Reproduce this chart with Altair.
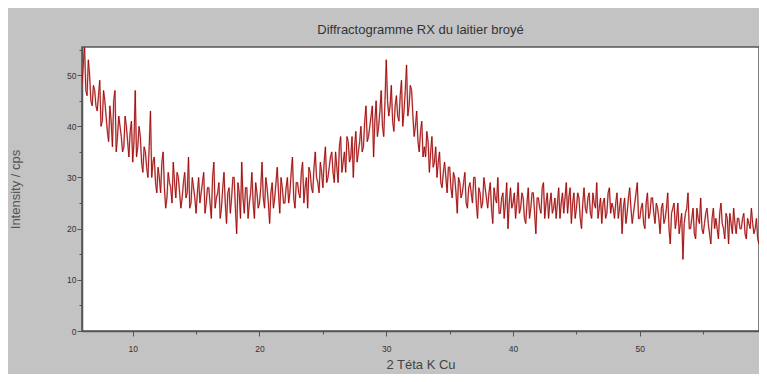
import altair as alt
import pandas as pd

# intensities at 2-theta = 6.0, 6.2, ..., 60.0
x_step = 0.2
intensity_even = [
    48, 56, 46, 50, 44,
    47, 43, 49, 41, 45,
    39, 44, 36, 47, 38,
    40, 35, 42, 37, 39,
    33, 47, 36, 38, 31,
    35, 30, 43, 33, 29,
    32, 27, 35, 24, 31,
    28, 33, 26, 30, 24,
    29, 26, 34, 25, 28,
    23, 30, 27, 31, 25,
    28, 22, 33, 26, 29,
    24, 31, 21, 28, 26,
    30, 19, 27, 33, 23,
    28, 25, 31, 22, 27,
    25, 33, 24, 28, 21,
    29, 26, 32, 23, 28,
    25, 30, 27, 34, 24,
    29, 26, 33, 28, 24,
    31, 27, 35, 29, 33,
    28, 36, 30, 34, 31,
    35, 29, 38, 33, 31,
    37, 34, 30, 39, 35,
    40, 36, 44, 38, 42,
    34, 45, 40, 47, 38,
    53, 42, 48, 39, 46,
    41, 49, 43, 52, 44,
    47, 38, 43, 35, 41,
    36, 39, 31, 38, 33,
    30, 35, 28, 33, 27,
    32, 26, 30, 23, 29,
    27, 31, 24, 29, 25,
    30, 22, 27, 25, 28,
    24, 29, 21, 26, 30,
    23, 27, 25, 20, 28,
    25, 22, 29, 24, 26,
    21, 28, 24, 27, 19,
    26, 23, 29, 25, 22,
    27, 24, 22, 28, 25,
    23, 29, 26, 21, 27,
    24, 26, 20, 28, 23,
    27, 22, 25, 29, 24,
    21, 26, 23, 28, 25,
    22, 27, 24, 19, 26,
    23, 28, 21, 25, 29,
    22, 25, 20, 27, 23,
    26, 21, 24, 19, 25,
    22, 27, 17, 24, 20,
    25, 21, 14, 23, 27,
    20, 24, 18, 22, 26,
    19, 23, 21, 17, 24,
    22, 18, 25, 20, 23,
    17, 21, 24, 19, 22,
    20, 23, 18, 21, 24,
    19, 22, 17, 21, 18,
    19,
]
# intensities at 2-theta = 6.1, 6.3, ..., 59.9
intensity_odd = [
    52, 47, 53, 45, 48,
    44, 46, 40, 47, 42,
    37, 41, 45, 35, 42,
    38, 36, 40, 34, 41,
    37, 34, 40, 33, 36,
    32, 36, 30, 34, 27,
    30, 33, 28, 26, 29,
    25, 29, 31, 27, 26,
    31, 27, 24, 30, 26,
    27, 25, 29, 23, 28,
    25, 30, 24, 27, 22,
    28, 25, 27, 23, 30,
    24, 29, 22, 26, 28,
    22, 27, 25, 29, 24,
    28, 26, 30, 25, 27,
    24, 29, 27, 30, 25,
    28, 25, 31, 26, 29,
    27, 31, 25, 30, 32,
    28, 32, 30, 27, 31,
    33, 29, 32, 35, 29,
    32, 36, 31, 35, 38,
    33, 38, 36, 33, 37,
    35, 41, 37, 40, 44,
    41, 38, 43, 40, 45,
    45, 44, 41, 44, 42,
    46, 40, 47, 42, 48,
    42, 40, 37, 39, 34,
    34, 37, 35, 32, 36,
    33, 29, 31, 30, 32,
    28, 31, 27, 30, 26,
    29, 25, 28, 27, 30,
    25, 28, 24, 30, 26,
    27, 24, 28, 25, 23,
    26, 22, 29, 25, 24,
    27, 25, 23, 27, 22,
    25, 22, 27, 23, 26,
    24, 28, 22, 27, 25,
    23, 26, 25, 22, 27,
    26, 23, 28, 25, 22,
    27, 22, 25, 24, 26,
    23, 27, 24, 22, 26,
    25, 22, 27, 23, 24,
    25, 22, 26, 24, 21,
    26, 24, 23, 27, 22,
    24, 21, 25, 22, 26,
    23, 25, 22, 24, 21,
    24, 20, 23, 25, 22,
    19, 23, 21, 24, 20,
    22, 19, 24, 21, 20,
    21, 24, 19, 22, 20,
    20, 23, 21, 18, 22,
    23, 19, 21, 22, 20,
    22, 19, 22, 20, 21,
    20, 18, 21, 19, 20,
]

x_ticks = [10, 15, 20, 25, 30, 35, 40, 45, 50, 55, 60]
y_ticks = [0, 5, 10, 15, 20, 25, 30, 35, 40, 45, 50, 55]

rows = [(round(6.0 + i * x_step, 1), v) for i, v in enumerate(intensity_even)]
rows += [(round(6.1 + i * x_step, 1), v) for i, v in enumerate(intensity_odd)]
df = pd.DataFrame(rows, columns=["t", "i"]).sort_values("t").reset_index(drop=True)
df["order"] = range(len(df))

major_size = {"condition": {"test": "datum.value % 10 === 0", "value": 5}, "value": 3}

x_enc = alt.X(
    "t:Q",
    scale=alt.Scale(domain=[6, 59.4], nice=False, zero=False),
    axis=alt.Axis(
        title="2 Téta K Cu",
        values=x_ticks,
        labelExpr="datum.value % 10 === 0 ? datum.label : ''",
        grid=False,
        tickSize=major_size,
        tickColor="#555555",
        domainColor="#555555",
        domainWidth=1.5,
        labelFontSize=8.5,
        labelColor="#333333",
        labelPadding=8,
        titleFontSize=13,
        titleFontWeight="normal",
        titleColor="#444444",
        titlePadding=6,
    ),
)
y_enc = alt.Y(
    "i:Q",
    scale=alt.Scale(domain=[0, 55.5], nice=False),
    axis=alt.Axis(
        title="Intensity / cps",
        values=y_ticks,
        labelExpr="datum.value % 10 === 0 ? datum.label : ''",
        grid=False,
        tickSize=major_size,
        tickColor="#555555",
        domainColor="#555555",
        domainWidth=1.5,
        labelFontSize=8.5,
        labelColor="#333333",
        labelPadding=1,
        titleFontSize=13,
        titleFontWeight="normal",
        titleColor="#555555",
        titlePadding=44,
    ),
)

base = alt.Chart(df)
halo = base.mark_line(color="#dd7777", strokeWidth=1.8, opacity=0.55, clip=True).encode(
    x=x_enc, y=y_enc, order="order:Q"
)
core = base.mark_line(color="#9a0808", strokeWidth=0.9, clip=True).encode(
    x=x_enc, y=y_enc, order="order:Q"
)

chart = (
    alt.layer(halo, core)
    .properties(
        width=677,
        height=284,
        autosize="none",
        padding={"left": 74, "top": 39, "right": 0, "bottom": 43},
        title=alt.TitleParams(
            "Diffractogramme RX du laitier broyé",
            fontSize=13,
            fontWeight="normal",
            color="#333333",
            anchor="middle",
            offset=10,
            font="Liberation Sans",
        ),
        background="#c3c3c3",
    )
    .configure_view(fill="white", stroke="#555555", strokeWidth=1.5)
    .configure_axis(labelFont="Liberation Sans", titleFont="Liberation Sans")
)

chart.save("out.html", embed_options={"renderer": "svg", "actions": False})
